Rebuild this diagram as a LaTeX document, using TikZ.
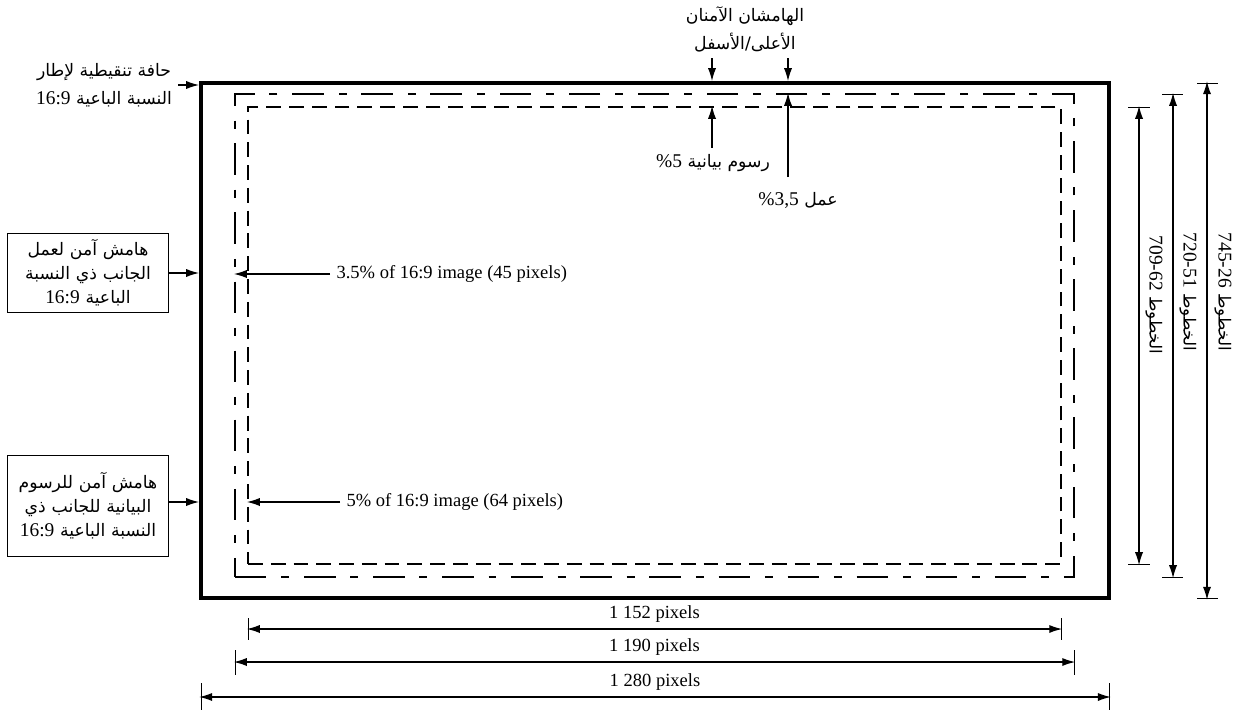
\documentclass[tikz,border=0pt]{standalone}
\usepackage{fontspec}
\setmainfont{Liberation Serif}
\newfontfamily\arabicfont[Script=Arabic]{DejaVu Sans}
\TeXXeTstate=1
\usepackage{tikz}
\usetikzlibrary{fit}
\usetikzlibrary{positioning}
\usetikzlibrary{arrows.meta}
\newcommand{\ltr}[1]{\beginL{\rmfamily\fontsize{10.5}{12}\selectfont #1}\endL}
\tikzstyle{frame} = [rectangle, draw, line width=2pt, inner sep=0pt]
\tikzstyle{actsafe} = [rectangle, draw, line width=1.3pt, inner sep=0pt,
    dash pattern=on 17pt off 8pt on 4.3pt off 8pt]
\tikzstyle{gfxsafe} = [rectangle, draw, line width=1.3pt, inner sep=0pt,
    dash pattern=on 8pt off 4.3pt]
\tikzstyle{sidebox} = [rectangle, draw, line width=0.6pt, text width=80pt,
    align=center, font=\arabicfont\fontsize{9.3}{13}\selectfont]
\tikzstyle{arlabel} = [align=center, font=\arabicfont\fontsize{9.3}{15}\selectfont]
\tikzstyle{txt} = [font=\fontsize{10}{12}\selectfont]
\tikzstyle{vlabel} = [rotate=-90, font=\arabicfont\fontsize{9}{12}\selectfont]
\tikzstyle{line} = [draw, line width=0.7pt, -{Latex[length=7pt,width=4.4pt]}]
\tikzstyle{dim} = [draw, line width=0.7pt,
    {Latex[length=7pt,width=4.4pt]}-{Latex[length=7pt,width=4.4pt]}]
\tikzstyle{tick} = [draw, line width=0.5pt]
\begin{document}
\begin{tikzpicture}[x=0.54pt, y=-0.54pt]
  \useasboundingbox (0,0) rectangle (1248,711);

  % the three frames
  \node [frame, fit={(201,83) (1109,598)}] (frame) {};
  \node [actsafe, fit={(235,94) (1074,577)}] (act) {};
  \node [gfxsafe, fit={(248,107) (1061,564)}] (gfx) {};

  % labels on the left
  \node [arlabel] (edge) at (104,85)
    {\beginR حافة تنقيطية لإطار\endR\\\beginR النسبة الباعية \ltr{16:9}\endR};
  \node [sidebox, minimum height=41pt] (actbox) at (88,273)
    {\beginR هامش آمن لعمل\endR\\\beginR الجانب ذي النسبة\endR\\\beginR الباعية \ltr{16:9}\endR};
  \node [sidebox, minimum height=55pt] (gfxbox) at (88,506)
    {\beginR هامش آمن للرسوم\endR\\\beginR البيانية للجانب ذي\endR\\\beginR النسبة الباعية \ltr{16:9}\endR};

  \path [line] (edge.east) -- (frame.west |- edge.east);
  \path [line] (actbox) -- (frame.west |- actbox);
  \path [line] (gfxbox.east |- 0,502) -- (frame.west |- 0,502);

  % labels inside
  \node [txt, anchor=west] (actnote) at (330,274) {3.5\% of 16:9 image (45 pixels)};
  \node [txt, anchor=west] (gfxnote) at (340,502) {5\% of 16:9 image (64 pixels)};
  \path [line] (actnote) -- (act.west |- actnote);
  \path [line] (gfxnote) -- (gfx.west |- gfxnote);

  % top and bottom margins
  \node [arlabel] (tbnote) at (745,29)
    {\beginR الهامشان الآمنان\endR\\\beginR الأعلى/الأسفل\endR};
  \node [arlabel] (gfxlbl) at (713,163) {\beginR رسوم بيانية \ltr{\%5}\endR};
  \node [arlabel] (actlbl) at (798,200) {\beginR عمل \ltr{\%3,5}\endR};
  \coordinate (gfxmark) at (712,0);
  \coordinate (actmark) at (788,0);
  \coordinate (acttail) at (788,177);

  \path [line] (gfxmark |- tbnote.south) -- (gfxmark |- frame.north);
  \path [line] (actmark |- tbnote.south) -- (actmark |- frame.north);
  \path [line] (gfxlbl.north -| gfxmark) -- (gfxmark |- gfx.north);
  \path [line] (acttail) -- (actmark |- act.north);

  % heights on the right
  \coordinate (h1) at (1139,0);
  \coordinate (h2) at (1173,0);
  \coordinate (h3) at (1207,0);
  \path [tick] (1128,107) -- (1150,107) (1128,564) -- (1150,564);
  \path [tick] (1162,94) -- (1183,94) (1162,577) -- (1183,577);
  \path [tick] (1197,83) -- (1218,83) (1197,598) -- (1218,598);
  \path [dim] (h1 |- gfx.north) -- (h1 |- gfx.south);
  \path [dim] (h2 |- act.north) -- (h2 |- act.south);
  \path [dim] (h3 |- frame.north) -- (h3 |- frame.south);
  \node [vlabel] (h709) at (1154,295) {\beginR الخطوط \ltr{709-62}\endR};
  \node [vlabel] (h720) at (1188,292) {\beginR الخطوط \ltr{720-51}\endR};
  \node [vlabel] (h745) at (1223,292) {\beginR الخطوط \ltr{745-26}\endR};

  % widths below
  \coordinate (w1) at (0,629);
  \coordinate (w2) at (0,662);
  \coordinate (w3) at (0,697);
  \path [tick] (248,618) -- (248,640) (1061,618) -- (1061,640);
  \path [tick] (235,650) -- (235,675) (1074,650) -- (1074,675);
  \path [tick] (201,683) -- (201,710) (1109,683) -- (1109,710);
  \path [dim] (gfx.west |- w1) -- node [txt, above] (w1152) {1 152 pixels} (gfx.east |- w1);
  \path [dim] (act.west |- w2) -- node [txt, above] (w1190) {1 190 pixels} (act.east |- w2);
  \path [dim] (frame.west |- w3) -- node [txt, above] (w1280) {1 280 pixels} (frame.east |- w3);

\end{tikzpicture}
\end{document}
